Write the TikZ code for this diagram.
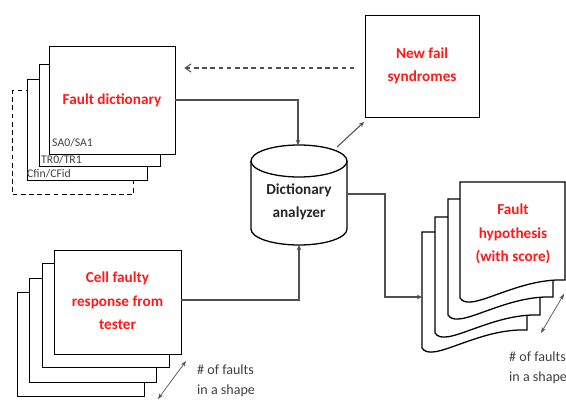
\documentclass[tikz,border=0pt]{standalone}
\usepackage{fontspec}
\setmainfont{Carlito}
\usetikzlibrary{arrows.meta}
\definecolor{redtxt}{HTML}{FF1A1A}
\definecolor{graytxt}{HTML}{404040}
\definecolor{conn}{HTML}{505050}
\newcommand\docsheet[2]{%
  \draw[sheetline] (#1,#2) -- ++(105,0) -- ++(0,98)
    .. controls +(-50,-2) and +(10,16) .. ++(-105,18) -- cycle;}
\begin{document}
\begin{tikzpicture}[x=0.03cm,y=-0.03cm,
  sheet/.style={draw=black,line width=1.1pt,fill=white,anchor=north west,inner sep=0pt},
  sheetline/.style={draw=black,line width=1.1pt,fill=white},
  redlab/.style={text=redtxt,font=\fontsize{13}{20}\selectfont\bfseries,align=center,inner sep=0pt},
  blklab/.style={text=black!85,font=\fontsize{13}{20}\selectfont\bfseries,align=center,inner sep=0pt},
  smalllab/.style={text=graytxt,font=\fontsize{10}{12}\selectfont,anchor=west,inner sep=0pt},
  notelab/.style={text=graytxt,font=\fontsize{12}{17}\selectfont,anchor=west,align=left,inner sep=0pt},
  connector/.style={draw=conn,line width=0.9pt},
  tip/.style={-{Stealth[length=4.5pt,width=4pt]}},
  dimarrow/.style={draw=conn,line width=0.6pt,{Stealth[length=5pt,width=3.5pt]}-{Stealth[length=5pt,width=3.5pt]}}]
\useasboundingbox (0,0) rectangle (566,400);

% ---- Fault dictionary stack
\node[sheet,dashed,dash pattern=on 4pt off 3pt,minimum width=3.63cm,minimum height=3.12cm] (fd4) at (12,90) {};
\node[sheet,minimum width=3.6cm,minimum height=3.03cm] (fd3) at (27,79) {};
\node[smalllab] (cfin) at (27,174) {Cfin/CFid};
\node[sheet,minimum width=3.63cm,minimum height=3.06cm] (fd2) at (39,64) {};
\node[smalllab] (tr) at (41,160) {TR0/TR1};
\node[sheet,minimum width=3.78cm,minimum height=3.24cm] (fd1) at (49,46) {};
\node[smalllab] (sa) at (52,143) {SA0/SA1};
\node[redlab] (fdtext) at (112,100) {Fault dictionary};

% ---- Cell faulty response stack
\node[sheet,minimum width=3.81cm,minimum height=3.12cm] (cr4) at (17,292) {};
\node[sheet,minimum width=3.81cm,minimum height=3.12cm] (cr3) at (29,278) {};
\node[sheet,minimum width=3.81cm,minimum height=3.12cm] (cr2) at (42,263) {};
\node[sheet,minimum width=3.81cm,minimum height=3.12cm] (cr1) at (54,250) {};
\node[redlab] (crtext) at (117.5,301) {Cell faulty\\response from\\tester};

% ---- New fail syndromes
\node[sheet,minimum width=3.42cm,minimum height=3.06cm] (nf) at (365,15) {};
\node[redlab] (nftext) at (422,66) {New fail\\syndromes};

% ---- Dictionary analyzer cylinder
\draw[sheetline] (251,161) -- (251,229)
   arc[start angle=180,end angle=360,x radius=1.44cm,y radius=0.48cm]
   -- (347,161)
   arc[start angle=0,end angle=180,x radius=1.44cm,y radius=0.48cm] -- cycle;
\draw[draw=black,line width=1.1pt] (251,161)
   arc[start angle=180,end angle=360,x radius=1.44cm,y radius=0.48cm];
\node[blklab] (da) at (299,202) {Dictionary\\analyzer};
\coordinate (datop) at (298,145);
\coordinate (dabot) at (299,245);
\coordinate (daeast) at (347,194);
\coordinate (dane) at (337,147);

% ---- Fault hypothesis stack
\docsheet{422}{232}
\docsheet{435}{217}
\docsheet{448}{199}
\docsheet{460}{182}
\coordinate (hyp4w) at (422,297);
\node[redlab] (hyptext) at (513,234) {Fault\\hypothesis\\(with score)};

% ---- connectors
\coordinate (fdeast) at (175,100);
\coordinate (fdin) at (175,68);
\coordinate (nfwest) at (365,68);
\coordinate (nfsw) at (364,122);
\coordinate (creast) at (181,300);
\draw[connector,dashed,dash pattern=on 4pt off 3pt,-{Straight Barb[length=5pt,width=7pt]},shorten >=8pt, shorten <=9pt] (nfwest) -- (fdin);
\draw[connector,tip] (fdeast) -| (datop);
\draw[connector,tip] (dane) -- (nfsw);
\draw[connector,tip] (creast) -| (dabot);
\draw[connector,tip] (daeast) -- (385,194) |- (hyp4w);

% ---- shape-count notes
\coordinate (la) at (158,399);
\coordinate (lb) at (186,361);
\draw[dimarrow] (la) -- (lb);
\node[notelab] (ln) at (197,381) {\# of faults\\in a shape};
\coordinate (ra) at (564,294);
\coordinate (rb) at (541,333);
\draw[dimarrow] (ra) -- (rb);
\node[notelab] (rn) at (509,368) {\# of faults\\in a shape};
\end{tikzpicture}
\end{document}
